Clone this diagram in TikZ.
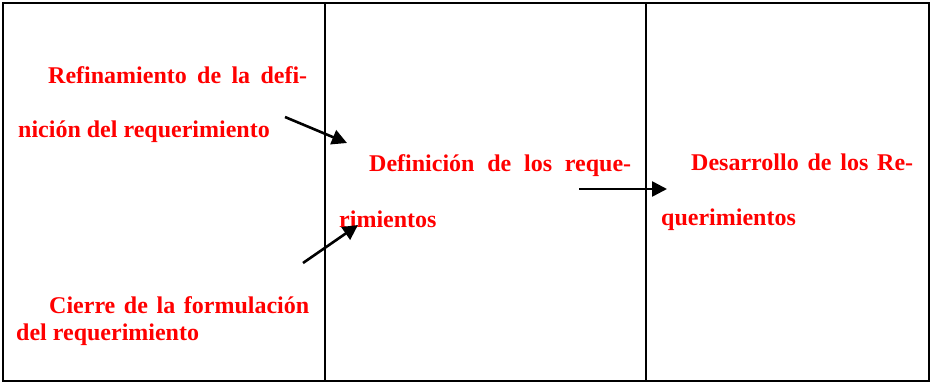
\documentclass[tikz,border=0pt]{standalone}
\usepackage{fontspec}
\setmainfont{Liberation Serif}
\usetikzlibrary{arrows.meta}
\definecolor{txtred}{RGB}{255,0,0}
\begin{document}
\begin{tikzpicture}[x=1pt,y=-1pt,
  frame/.style={line width=2.2pt},
  lbl/.style={anchor=base west,inner sep=0pt,text=txtred,font=\fontsize{24}{28}\selectfont\bfseries},
  arr/.style={line width=2.6pt,-{Triangle[length=15pt,width=15pt]}}]
\useasboundingbox (0,0) rectangle (931,383);
\draw[frame] (3,3) rectangle (929,381);
\draw[frame] (325,3) -- (325,381);
\draw[frame] (646,3) -- (646,381);
% texts
\node[lbl] (r1) at (48,83) {\hbox to 259pt{Refinamiento\hfill de\hfill la\hfill defi-}};
\node[lbl] (r2) at (18,137) {nición del requerimiento};
\node[lbl] (d1) at (369,171) {\hbox to 262pt{Definición\hfill de\hfill los\hfill reque-}};
\node[lbl] (d2) at (339,227) {rimientos};
\node[lbl] (s1) at (691,170) {\hbox to 222pt{Desarrollo\hfill de\hfill los\hfill Re-}};
\node[lbl] (s2) at (661,225) {querimientos};
\node[lbl] (c1) at (49,313) {\hbox to 260pt{Cierre\hfill de\hfill la\hfill formulación}};
\node[lbl] (c2) at (16,340) {del requerimiento};
% arrow ends
\coordinate (a1s) at (285,117);
\coordinate (a1e) at (347,143);
\coordinate (a2s) at (303,263);
\coordinate (a2e) at (358,225);
\coordinate (a3s) at (579,189);
\coordinate (a3e) at (667,189);
\draw[arr] (a1s) -- (a1e);
\draw[arr] (a2s) -- (a2e);
\draw[arr] (a3s) -- (a3e);
\end{tikzpicture}
\end{document}
